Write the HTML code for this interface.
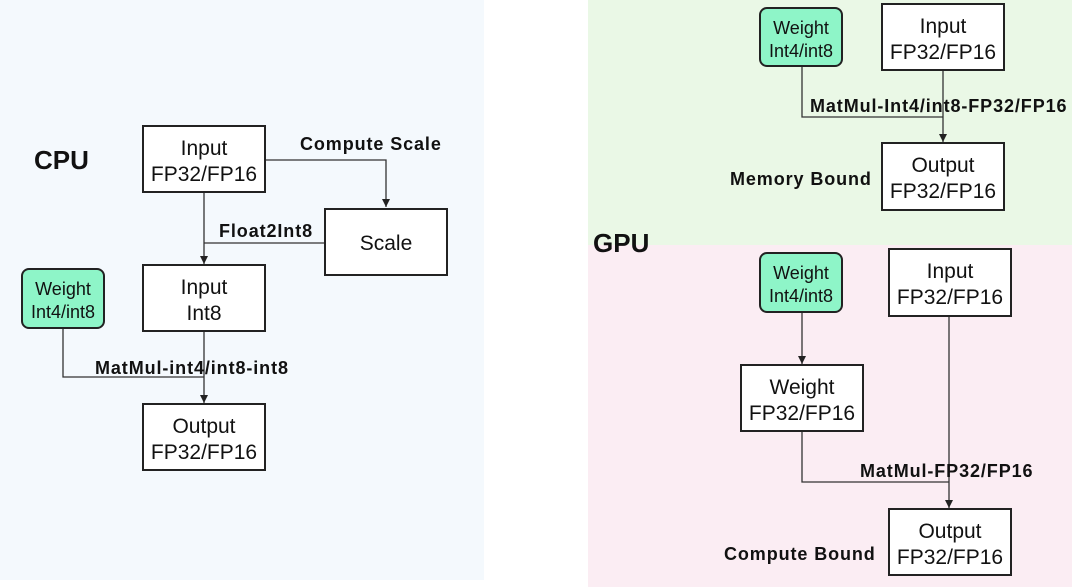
<!DOCTYPE html>
<html><head><meta charset="utf-8"><style>
html,body{margin:0;padding:0;background:#fff;}
svg{display:block;font-family:"Liberation Sans",sans-serif;}
.b{fill:#fff;stroke:#222;stroke-width:2;}
.g{fill:#8ef5c8;stroke:#222;stroke-width:2;}
.t{font-size:21px;fill:#111;text-anchor:middle;}
.ts{font-size:18px;fill:#111;text-anchor:middle;}
.l{font-size:18px;font-weight:bold;fill:#111;letter-spacing:0.9px;}
.h{font-size:26px;font-weight:bold;fill:#111;}
.ln{stroke:#333;stroke-width:1.3;fill:none;}
</style></head><body>
<svg width="1080" height="587" viewBox="0 0 1080 587">
<defs>
<marker id="d" viewBox="0 0 10 10" markerWidth="8" markerHeight="8" refX="10" refY="5" orient="auto" markerUnits="userSpaceOnUse"><path d="M0,0 L10,5 L0,10 z" fill="#222"/></marker></defs>
<rect x="0" y="0" width="484" height="580" fill="#f4f9fd"/>
<rect x="588" y="0" width="484" height="245" fill="#eaf8e6"/>
<rect x="588" y="245" width="484" height="342" fill="#fbedf3"/>

<!-- CPU -->
<text x="34" y="169" class="h">CPU</text>
<path class="ln" d="M265,160 H386 V207" marker-end="url(#d)"/>
<path class="ln" d="M204,192 V264" marker-end="url(#d)"/>
<path class="ln" d="M325,243 H204"/>
<path class="ln" d="M63,328 V377 H204"/>
<path class="ln" d="M204,331 V403" marker-end="url(#d)"/>
<rect class="b" x="143" y="126" width="122" height="66"/>
<text class="t" x="204" y="155">Input</text><text class="t" x="204" y="181">FP32/FP16</text>
<rect class="b" x="325" y="209" width="122" height="66"/>
<text class="t" x="386" y="250">Scale</text>
<rect class="b" x="143" y="265" width="122" height="66"/>
<text class="t" x="204" y="294">Input</text><text class="t" x="204" y="320">Int8</text>
<rect class="g" x="22" y="269" width="82" height="59" rx="7"/>
<text class="ts" x="63" y="295">Weight</text><text class="ts" x="63" y="318">Int4/int8</text>
<rect class="b" x="143" y="404" width="122" height="66"/>
<text class="t" x="204" y="433">Output</text><text class="t" x="204" y="459">FP32/FP16</text>
<text class="l" x="300" y="150">Compute Scale</text>
<text class="l" x="219" y="237">Float2Int8</text>
<text class="l" x="95" y="374">MatMul-int4/int8-int8</text>

<!-- GPU top -->
<path class="ln" d="M802,66 V117 H943"/>
<path class="ln" d="M943,70 V142" marker-end="url(#d)"/>
<rect class="g" x="760" y="8" width="82" height="58" rx="7"/>
<text class="ts" x="801" y="34">Weight</text><text class="ts" x="801" y="57">Int4/int8</text>
<rect class="b" x="882" y="4" width="122" height="66"/>
<text class="t" x="943" y="33">Input</text><text class="t" x="943" y="59">FP32/FP16</text>
<rect class="b" x="882" y="143" width="122" height="67"/>
<text class="t" x="943" y="172">Output</text><text class="t" x="943" y="198">FP32/FP16</text>
<text class="l" x="810" y="112" letter-spacing="0.4">MatMul-Int4/int8-FP32/FP16</text>
<text class="l" x="730" y="185">Memory Bound</text>
<text class="h" x="593" y="252">GPU</text>

<!-- GPU bottom -->
<path class="ln" d="M802,312 V364" marker-end="url(#d)"/>
<path class="ln" d="M802,431 V482 H949"/>
<path class="ln" d="M949,316 V508" marker-end="url(#d)"/>
<rect class="g" x="760" y="253" width="82" height="59" rx="7"/>
<text class="ts" x="801" y="279">Weight</text><text class="ts" x="801" y="302">Int4/int8</text>
<rect class="b" x="889" y="249" width="122" height="67"/>
<text class="t" x="950" y="278">Input</text><text class="t" x="950" y="304">FP32/FP16</text>
<rect class="b" x="741" y="365" width="122" height="66"/>
<text class="t" x="802" y="394">Weight</text><text class="t" x="802" y="420">FP32/FP16</text>
<rect class="b" x="889" y="509" width="122" height="66"/>
<text class="t" x="950" y="538">Output</text><text class="t" x="950" y="564">FP32/FP16</text>
<text class="l" x="860" y="477">MatMul-FP32/FP16</text>
<text class="l" x="724" y="560">Compute Bound</text>
</svg>
</body></html>
